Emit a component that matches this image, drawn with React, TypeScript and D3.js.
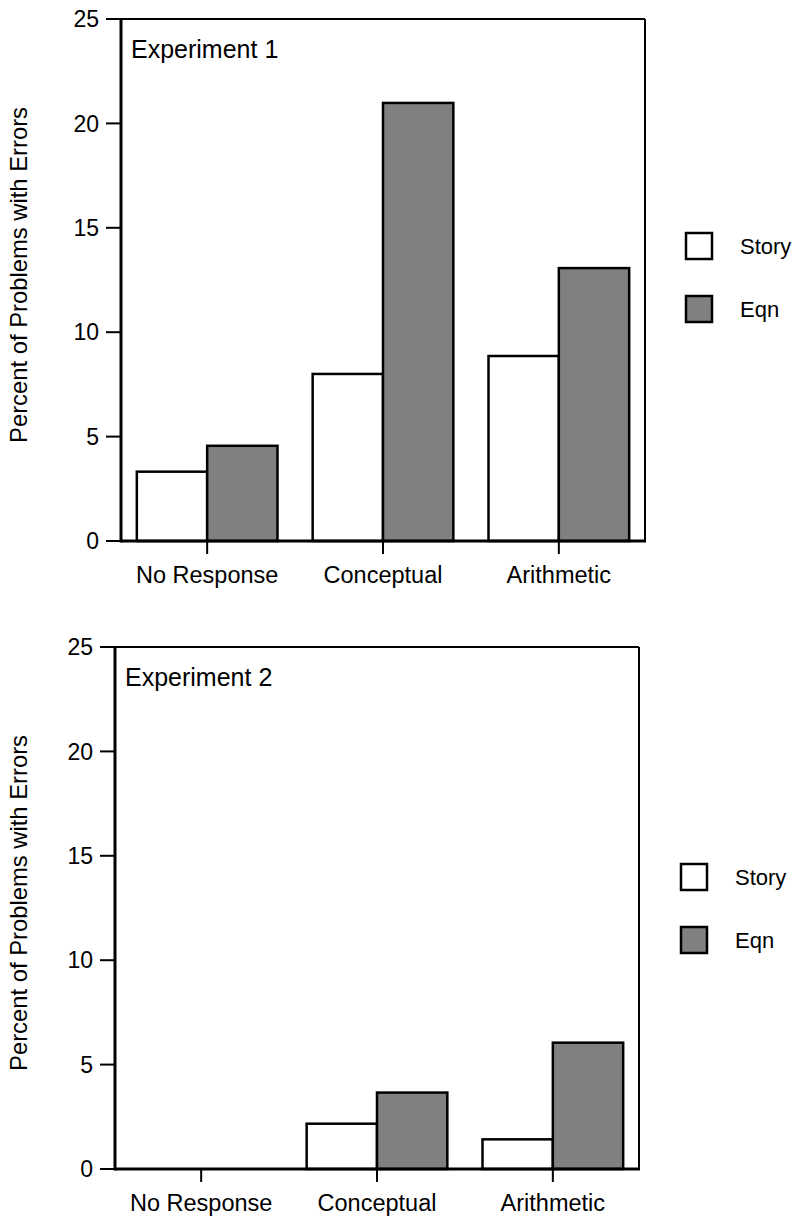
import React from 'react';
import * as d3 from 'd3';

const categories = ['No Response', 'Conceptual', 'Arithmetic'];
const seriesNames = ['Story', 'Eqn'];
const seriesFill = ['#ffffff', '#808080'];
const yTicks = [0, 5, 10, 15, 20, 25];

const exp1Story = [3.32, 8.0, 8.86];
const exp1Eqn = [4.56, 20.98, 13.07];
const exp2Story = [0, 2.17, 1.42];
const exp2Eqn = [0, 3.66, 6.05];

const panels = [
  { title: 'Experiment 1', story: exp1Story, eqn: exp1Eqn, left: 121, right: 645, top: 19, bottom: 541, legendX: 686, legendY: 233 },
  { title: 'Experiment 2', story: exp2Story, eqn: exp2Eqn, left: 115, right: 639, top: 647, bottom: 1169, legendX: 681, legendY: 864 },
];

const font = 'Arial, "Liberation Sans", sans-serif';

function Panel({ p }) {
  const x = d3.scaleBand().domain(categories).range([p.left, p.right]).paddingInner(0.2).paddingOuter(0.09);
  const sub = d3.scaleBand().domain(seriesNames).range([0, x.bandwidth()]);
  const y = d3.scaleLinear().domain([0, 25]).range([p.bottom, p.top]);
  const values = [p.story, p.eqn];

  return (
    <g>
      {/* frame */}
      <line x1={p.left} x2={p.right} y1={p.top} y2={p.top} stroke="#000" strokeWidth={2} />
      <line x1={p.right} x2={p.right} y1={p.top} y2={p.bottom} stroke="#000" strokeWidth={2} />

      {categories.map((c, i) =>
        seriesNames.map((s, j) => {
          const v = values[j][i];
          if (v <= 0) return null;
          return (
            <rect
              key={c + s}
              x={x(c) + sub(s)}
              y={y(v)}
              width={sub.bandwidth()}
              height={y(0) - y(v)}
              fill={seriesFill[j]}
              stroke="#000"
              strokeWidth={2.5}
            />
          );
        })
      )}

      {/* axes */}
      <line x1={p.left} x2={p.right + 1} y1={p.bottom} y2={p.bottom} stroke="#000" strokeWidth={3} />
      <line x1={p.left} x2={p.left} y1={p.top - 1} y2={p.bottom + 1.5} stroke="#000" strokeWidth={3} />

      {yTicks.map((t) => (
        <g key={t}>
          <line x1={p.left - 15} x2={p.left} y1={y(t)} y2={y(t)} stroke="#000" strokeWidth={2} />
          <text x={p.left - 22} y={y(t)} dy="0.36em" textAnchor="end" fontSize={23} fontFamily={font}>
            {t}
          </text>
        </g>
      ))}

      {categories.map((c) => {
        const cx = x(c) + x.bandwidth() / 2;
        return (
          <g key={c}>
            <line x1={cx} x2={cx} y1={p.bottom} y2={p.bottom + 13} stroke="#000" strokeWidth={2} />
            <text x={cx} y={p.bottom + 42} textAnchor="middle" fontSize={23.5} fontFamily={font}>
              {c}
            </text>
          </g>
        );
      })}

      <text x={p.left + 10} y={p.top + 39} fontSize={25} fontFamily={font}>
        {p.title}
      </text>

      <text
        transform={`translate(18, ${(p.top + p.bottom) / 2 - 5}) rotate(-90)`}
        dy="0.36em"
        textAnchor="middle"
        fontSize={23.8}
        fontFamily={font}
      >
        Percent of Problems with Errors
      </text>

      {/* legend */}
      {seriesNames.map((s, j) => (
        <g key={s} transform={`translate(${p.legendX}, ${p.legendY + j * 63})`}>
          <rect x={0} y={0} width={26} height={26} fill={seriesFill[j]} stroke="#000" strokeWidth={2.5} />
          <text x={54} y={13} dy="0.36em" fontSize={22} fontFamily={font}>
            {s}
          </text>
        </g>
      ))}
    </g>
  );
}

export default function App() {
  return (
    <svg width={797} height={1216} style={{ position: 'absolute', left: 0, top: 0, background: '#fff' }}>
      {panels.map((p) => (
        <Panel key={p.title} p={p} />
      ))}
    </svg>
  );
}
